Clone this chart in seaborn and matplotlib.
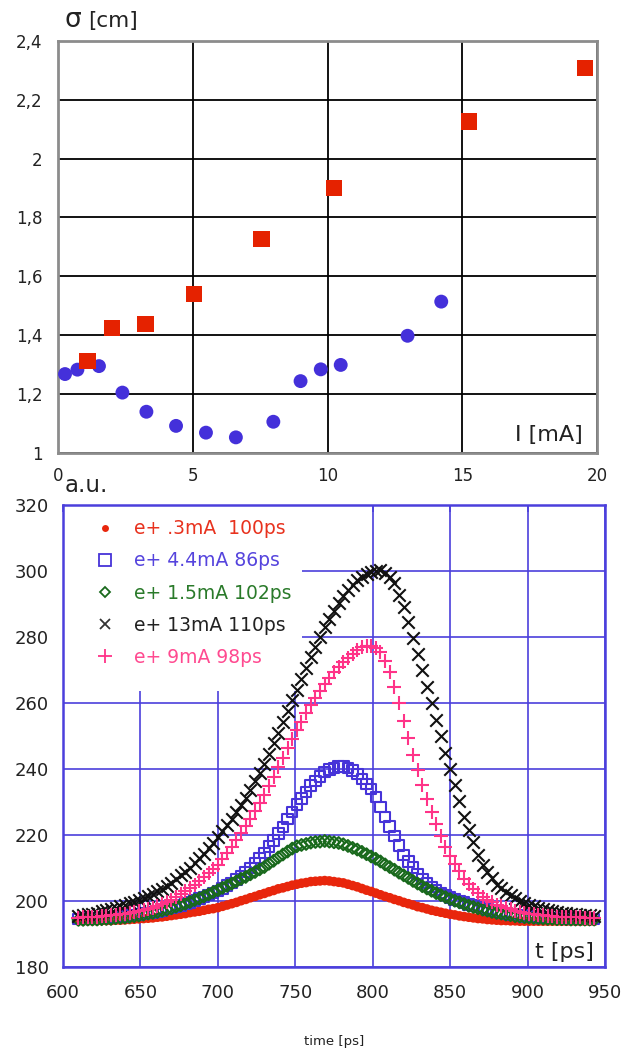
import matplotlib
matplotlib.use("Agg")
import matplotlib.pyplot as plt
import matplotlib.lines as mlines
from matplotlib.patches import Rectangle
from matplotlib.ticker import FuncFormatter
import seaborn as sns

sns.set_theme(style="white")
plt.rcParams["font.family"] = ["DejaVu Sans"]

# ---------------- upper panel: beam size vs current ----------------
current_sq_mA = [1.1, 2.0, 3.25, 5.05, 7.55, 10.25, 15.25, 19.55]
sigma_sq_cm = [1.313, 1.425, 1.438, 1.54, 1.726, 1.90, 2.125, 2.308]

current_dot_mA = [0.26, 0.72, 1.52, 2.39, 3.28, 4.38, 5.49, 6.6, 7.99, 9.0,
                  9.75, 10.49, 12.97, 14.22]
sigma_dot_cm = [1.268, 1.283, 1.295, 1.205, 1.14, 1.092, 1.069, 1.053, 1.106,
                1.244, 1.284, 1.299, 1.398, 1.514]

current_ticks = [0, 5, 10, 15, 20]
sigma_ticks = [1.0, 1.2, 1.4, 1.6, 1.8, 2.0, 2.2, 2.4]

# ---------------- lower panel: longitudinal profiles ----------------
t_ps = [610, 613, 616, 619, 622, 625, 628, 631, 634, 637,
        640, 643, 646, 649, 652, 655, 658, 661, 664, 667,
        670, 673, 676, 679, 682, 685, 688, 691, 694, 697,
        700, 703, 706, 709, 712, 715, 718, 721, 724, 727,
        730, 733, 736, 739, 742, 745, 748, 751, 754, 757,
        760, 763, 766, 769, 772, 775, 778, 781, 784, 787,
        790, 793, 796, 799, 802, 805, 808, 811, 814, 817,
        820, 823, 826, 829, 832, 835, 838, 841, 844, 847,
        850, 853, 856, 859, 862, 865, 868, 871, 874, 877,
        880, 883, 886, 889, 892, 895, 898, 901, 904, 907,
        910, 913, 916, 919, 922, 925, 928, 931, 934, 937,
        940, 943]

prof_03mA = [194.0, 194.0, 194.0, 194.0, 194.0, 194.1, 194.1, 194.1, 194.2, 194.2,
             194.3, 194.4, 194.5, 194.6, 194.7, 194.8, 194.9, 195.1, 195.2, 195.4,
             195.6, 195.8, 196.0, 196.2, 196.5, 196.7, 196.9, 197.2, 197.5, 197.7,
             198.0, 198.4, 198.8, 199.2, 199.6, 200.1, 200.5, 201.0, 201.4, 201.9,
             202.3, 202.8, 203.2, 203.7, 204.0, 204.4, 204.8, 205.1, 205.4, 205.6,
             205.9, 206.0, 206.1, 206.2, 206.1, 205.9, 205.7, 205.5, 205.1, 204.7,
             204.3, 203.8, 203.3, 202.9, 202.4, 201.9, 201.4, 201.0, 200.5, 200.1,
             199.6, 199.2, 198.8, 198.3, 198.0, 197.6, 197.2, 196.9, 196.6, 196.3,
             196.0, 195.8, 195.5, 195.3, 195.1, 194.9, 194.7, 194.6, 194.4, 194.3,
             194.2, 194.1, 194.1, 194.0, 194.0, 193.9, 193.9, 193.9, 193.9, 193.9,
             193.9, 193.9, 193.9, 193.9, 193.9, 193.9, 193.9, 193.9, 193.9, 193.9,
             193.9, 193.9]

prof_44mA = [194.6, 194.6, 194.7, 194.7, 194.8, 194.8, 194.9, 195.0, 195.2, 195.3,
             195.4, 195.6, 195.8, 195.9, 196.2, 196.4, 196.6, 196.9, 197.2, 197.6,
             197.9, 198.3, 198.7, 199.2, 199.6, 200.1, 200.7, 201.2, 201.8, 202.4,
             203.0, 203.8, 204.7, 205.5, 206.5, 207.6, 208.8, 210.0, 211.5, 213.0,
             214.5, 216.5, 218.4, 220.4, 222.5, 224.8, 227.0, 229.2, 231.1, 233.1,
             235.0, 236.4, 237.7, 239.1, 239.8, 240.3, 240.7, 240.8, 240.3, 239.5,
             238.5, 237.0, 235.5, 234.0, 231.5, 228.5, 225.5, 222.6, 219.7, 216.9,
             214.0, 212.0, 210.1, 208.2, 206.7, 205.5, 204.3, 203.3, 202.5, 201.8,
             201.0, 200.5, 200.0, 199.5, 199.0, 198.7, 198.3, 197.9, 197.5, 197.2,
             196.8, 196.5, 196.3, 196.0, 195.8, 195.6, 195.4, 195.3, 195.2, 195.1,
             195.0, 194.9, 194.9, 194.8, 194.8, 194.7, 194.7, 194.6, 194.6, 194.6,
             194.6, 194.6]

prof_15mA = [194.3, 194.3, 194.4, 194.4, 194.4, 194.5, 194.6, 194.6, 194.8, 194.9,
             195.0, 195.2, 195.4, 195.6, 195.9, 196.2, 196.4, 196.7, 197.1, 197.4,
             197.8, 198.3, 198.7, 199.2, 199.7, 200.3, 200.8, 201.4, 202.0, 202.7,
             203.3, 204.0, 204.6, 205.3, 206.0, 206.7, 207.3, 208.1, 208.8, 209.6,
             210.3, 211.3, 212.2, 213.2, 214.1, 215.0, 215.9, 216.6, 217.0, 217.3,
             217.7, 217.9, 218.0, 218.2, 218.0, 217.8, 217.6, 217.2, 216.7, 216.1,
             215.6, 214.9, 214.2, 213.5, 212.8, 212.0, 211.1, 210.3, 209.5, 208.6,
             207.8, 207.0, 206.1, 205.3, 204.5, 203.8, 203.1, 202.4, 201.8, 201.2,
             200.6, 200.1, 199.6, 199.1, 198.6, 198.2, 197.8, 197.4, 197.1, 196.7,
             196.4, 196.2, 195.9, 195.7, 195.4, 195.3, 195.1, 195.0, 194.9, 194.8,
             194.7, 194.6, 194.6, 194.5, 194.5, 194.5, 194.4, 194.4, 194.4, 194.4,
             194.4, 194.4]

prof_13mA = [195.5, 195.7, 196.0, 196.2, 196.5, 196.9, 197.2, 197.5, 198.0, 198.4,
             198.8, 199.3, 199.8, 200.2, 200.8, 201.5, 202.2, 202.9, 203.8, 204.7,
             205.6, 206.7, 207.8, 208.8, 210.1, 211.5, 212.9, 214.4, 216.0, 217.7,
             219.3, 221.2, 223.0, 224.9, 227.0, 229.2, 231.3, 233.7, 236.3, 238.9,
             241.5, 244.7, 247.8, 251.0, 254.2, 257.5, 260.8, 264.1, 267.4, 270.7,
             274.0, 277.0, 280.0, 283.0, 285.6, 288.0, 290.4, 292.5, 294.3, 295.9,
             297.2, 298.1, 299.0, 299.7, 300.1, 300.2, 299.5, 298.1, 296.3, 292.8,
             289.0, 284.5, 279.6, 275.0, 270.1, 265.0, 259.9, 254.9, 249.9, 245.0,
             240.0, 235.2, 230.4, 225.6, 221.5, 217.8, 214.0, 210.9, 208.9, 206.9,
             205.0, 203.9, 202.8, 201.7, 200.8, 200.1, 199.5, 198.9, 198.4, 198.0,
             197.6, 197.3, 197.0, 196.7, 196.5, 196.3, 196.2, 196.0, 195.9, 195.8,
             195.7, 195.6]

prof_9mA = [195.0, 195.1, 195.1, 195.2, 195.2, 195.4, 195.5, 195.7, 195.8, 196.0,
            196.2, 196.4, 196.7, 196.9, 197.3, 197.6, 198.0, 198.5, 199.1, 199.7,
            200.3, 201.2, 202.0, 202.9, 203.9, 205.0, 206.1, 207.2, 208.5, 209.7,
            211.0, 212.8, 214.6, 216.4, 218.4, 220.5, 222.6, 224.8, 227.2, 229.6,
            232.0, 234.9, 237.7, 240.6, 243.4, 246.3, 249.1, 251.9, 254.4, 257.0,
            259.5, 261.6, 263.7, 265.8, 267.6, 269.3, 270.9, 272.4, 273.6, 274.8,
            276.0, 276.9, 277.4, 277.4, 276.6, 275.5, 272.8, 269.5, 265.0, 259.9,
            254.5, 249.4, 244.4, 239.6, 235.2, 231.0, 227.1, 223.3, 219.7, 216.5,
            213.5, 211.3, 209.0, 206.8, 205.1, 203.8, 202.4, 201.2, 200.4, 199.6,
            198.8, 198.4, 197.9, 197.5, 197.0, 196.8, 196.5, 196.2, 196.0, 195.8,
            195.7, 195.6, 195.4, 195.3, 195.3, 195.2, 195.1, 195.1, 195.1, 195.0,
            195.0, 195.0]

profile_labels = ["e+ .3mA  100ps", "e+ 4.4mA 86ps", "e+ 1.5mA 102ps",
                  "e+ 13mA 110ps", "e+ 9mA 98ps"]
time_ticks = [600, 650, 700, 750, 800, 850, 900, 950]
amp_ticks = [180, 200, 220, 240, 260, 280, 300, 320]

# ---------------- styling ----------------
RED = "#e52200"
BLUE = "#4430da"
C_RED = "#e8260c"
C_BLUE = "#4633d8"
C_GREEN = "#19691c"
C_BLACK = "#111111"
C_PINK = "#ff3388"
GRID_BLUE = "#4b3fdc"
TXT = "#222222"

fig = plt.figure(figsize=(6.23, 10.5), dpi=100)

# ---- upper panel ----
ax1 = fig.add_axes([0.0931, 0.5686, 0.8652, 0.3926])
sns.scatterplot(x=current_dot_mA, y=sigma_dot_cm, marker="o", s=100,
                color=BLUE, edgecolor="none", linewidth=0, ax=ax1, zorder=3)
sns.scatterplot(x=current_sq_mA, y=sigma_sq_cm, marker="s", s=140,
                color=RED, edgecolor="none", linewidth=0, ax=ax1, zorder=4)
ax1.set_xlim(0, 20)
ax1.set_ylim(1, 2.4)
ax1.set_xticks(current_ticks)
ax1.set_yticks(sigma_ticks)
ax1.yaxis.set_major_formatter(FuncFormatter(lambda v, p: f"{v:g}".replace(".", ",")))
ax1.set_axisbelow(True)
ax1.grid(True, color="black", linewidth=1.3)
for sp in ax1.spines.values():
    sp.set_color("#8c8c8c")
    sp.set_linewidth(2.0)
ax1.tick_params(axis="both", length=0, labelsize=12, labelcolor=TXT)
ax1.tick_params(axis="y", pad=11)
ax1.tick_params(axis="x", pad=10)
ax1.set_xlabel("")
ax1.set_ylabel("")

fig.text(0.104, 0.9743, "σ", fontsize=19, color=TXT, ha="left", va="baseline")
fig.text(0.1413, 0.9743, "[cm]", fontsize=15.5, color=TXT, ha="left", va="baseline")
fig.text(0.8266, 0.5803, "I [mA]", fontsize=16, color=TXT, ha="left", va="baseline")

# ---- lower panel ----
ax2 = fig.add_axes([0.1011, 0.0790, 0.8700, 0.4400])
series = [
    (prof_03mA, dict(marker="o", s=48, color=C_RED, edgecolor="none", linewidth=0)),
    (prof_44mA, dict(marker="s", s=58, facecolor="none", edgecolor=C_BLUE, linewidth=1.5)),
    (prof_15mA, dict(marker="D", s=36, facecolor="none", edgecolor=C_GREEN, linewidth=1.5)),
    (prof_13mA, dict(marker="x", s=80, color=C_BLACK, linewidth=1.5)),
    (prof_9mA, dict(marker="+", s=100, color=C_PINK, linewidth=1.5)),
]
for k, (vals, kw) in enumerate(series):
    sns.scatterplot(x=t_ps, y=vals, ax=ax2, zorder=3 + k, legend=False, **kw)

ax2.set_xlim(600, 950)
ax2.set_ylim(180, 320)
ax2.set_xticks(time_ticks)
ax2.set_yticks(amp_ticks)
ax2.set_axisbelow(True)
ax2.grid(True, color=GRID_BLUE, linewidth=1.2)
for sp in ax2.spines.values():
    sp.set_color(GRID_BLUE)
    sp.set_linewidth(1.8)
ax2.tick_params(axis="both", labelsize=13, labelcolor=TXT, color=GRID_BLUE,
                width=1.2, length=4, direction="out")
ax2.tick_params(axis="x", pad=8, top=True)
ax2.tick_params(axis="y", pad=6)
for tk in ax2.xaxis.get_major_ticks():
    tk.tick2line.set_marker(mlines.TICKDOWN)
    tk.tick2line.set_markersize(5)
ax2.set_xlabel("")
ax2.set_ylabel("")

# white panel behind the legend
ax2.add_patch(Rectangle((0, 0.597), 0.441, 0.403, transform=ax2.transAxes,
                        facecolor="white", edgecolor="none", zorder=1))

handles = [
    mlines.Line2D([], [], linestyle="none", marker="o", markersize=5,
                  color=C_RED, markeredgewidth=0),
    mlines.Line2D([], [], linestyle="none", marker="s", markersize=8,
                  markerfacecolor="none", markeredgecolor=C_BLUE, markeredgewidth=1.3),
    mlines.Line2D([], [], linestyle="none", marker="D", markersize=5,
                  markerfacecolor="none", markeredgecolor=C_GREEN, markeredgewidth=1.3),
    mlines.Line2D([], [], linestyle="none", marker="x", markersize=7,
                  color="#333333", markeredgewidth=1.3),
    mlines.Line2D([], [], linestyle="none", marker="+", markersize=10,
                  color=C_PINK, markeredgewidth=1.3),
]
ax2.legend(handles, profile_labels, loc="upper left", bbox_to_anchor=(0.059, 0.969),
           frameon=False, fontsize=13.5, handlelength=1.1, handletextpad=1.0,
           labelspacing=0.7, borderpad=0, borderaxespad=0,
           labelcolor=["#e8321e", "#5544dd", "#2a7a2a", "#222222", "#ff4a90"])

fig.text(0.1043, 0.5317, "a.u.", fontsize=16.5, color=TXT, ha="left", va="baseline")
fig.text(0.8587, 0.0876, "t [ps]", fontsize=16, color=TXT, ha="left", va="baseline")
fig.text(0.536, 0.0079, "time [ps]", fontsize=9.5, color=TXT, ha="center", va="center")

fig.savefig("out.png", dpi=100, facecolor="white")
